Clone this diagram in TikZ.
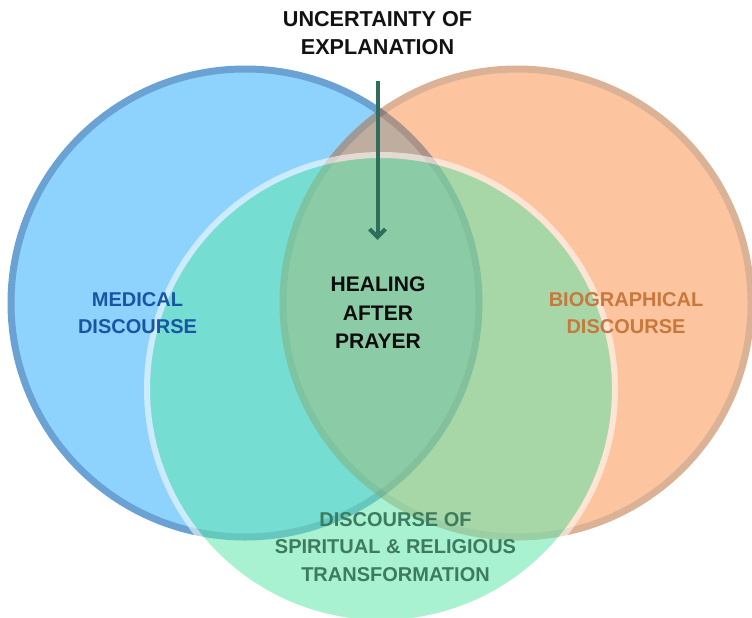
\documentclass[tikz,border=0pt]{standalone}
\usepackage{fontspec}
\setmainfont{Liberation Sans}
\usepackage{tikz}
\usetikzlibrary{arrows.meta}

\definecolor{medblue}{RGB}{142,211,253}
\definecolor{medline}{RGB}{106,162,211}
\definecolor{medtext}{RGB}{25,85,165}
\definecolor{bioorange}{RGB}{250,130,50}
\definecolor{bioline}{RGB}{179,88,27}
\definecolor{biotext}{RGB}{200,120,60}
\definecolor{spgreen}{RGB}{98,231,173}
\definecolor{sptext}{RGB}{62,123,94}
\definecolor{cuegreen}{RGB}{47,110,90}

\begin{document}
\begin{tikzpicture}[x=0.75pt,y=-0.75pt,
  venntext/.style={font=\bfseries\fontsize{15}{20.5}\selectfont,align=center,inner sep=0pt},
  ring/.style={line width=5.25pt},
  pointer/.style={draw=cuegreen,line width=3pt,-{Straight Barb[length=6pt,width=12pt]}}]
  \useasboundingbox (0,0) rectangle (752,617);
  \clip (0,0) rectangle (752,617);
  \fill[white] (0,0) rectangle (752,617);
  % the three discourses
  \draw[ring,fill=medblue,draw=medline] (245,303) circle (175.5pt);
  \begin{scope}[transparency group,opacity=0.46]
    \draw[ring,fill=bioorange,draw=bioline] (517,303) circle (175.5pt);
  \end{scope}
  \begin{scope}[transparency group,opacity=0.55]
    \draw[ring,line width=4.5pt,fill=spgreen,draw=white] (381,389) circle (175.5pt);
  \end{scope}
  % labels
  \node[venntext,text=black!93,font=\bfseries\fontsize{16.2}{20.5}\selectfont] (title) at (377.5,33) {UNCERTAINTY OF\\EXPLANATION};
  \node[venntext,text=medtext] (medical) at (137.5,313) {MEDICAL\\DISCOURSE};
  \node[venntext,text=biotext] (bio) at (626,313) {BIOGRAPHICAL\\DISCOURSE};
  \node[venntext,text=black!95,font=\bfseries\fontsize{15.8}{21.4}\selectfont] (heal) at (378,313) {HEALING\\AFTER\\PRAYER};
  \node[venntext,text=sptext] (spirit) at (395.5,547) {DISCOURSE OF\\SPIRITUAL \& RELIGIOUS\\TRANSFORMATION};
  \draw[pointer,shorten <=19.5pt,shorten >=27.75pt] (title.south) -- (title.south |- heal.north);
\end{tikzpicture}
\end{document}
